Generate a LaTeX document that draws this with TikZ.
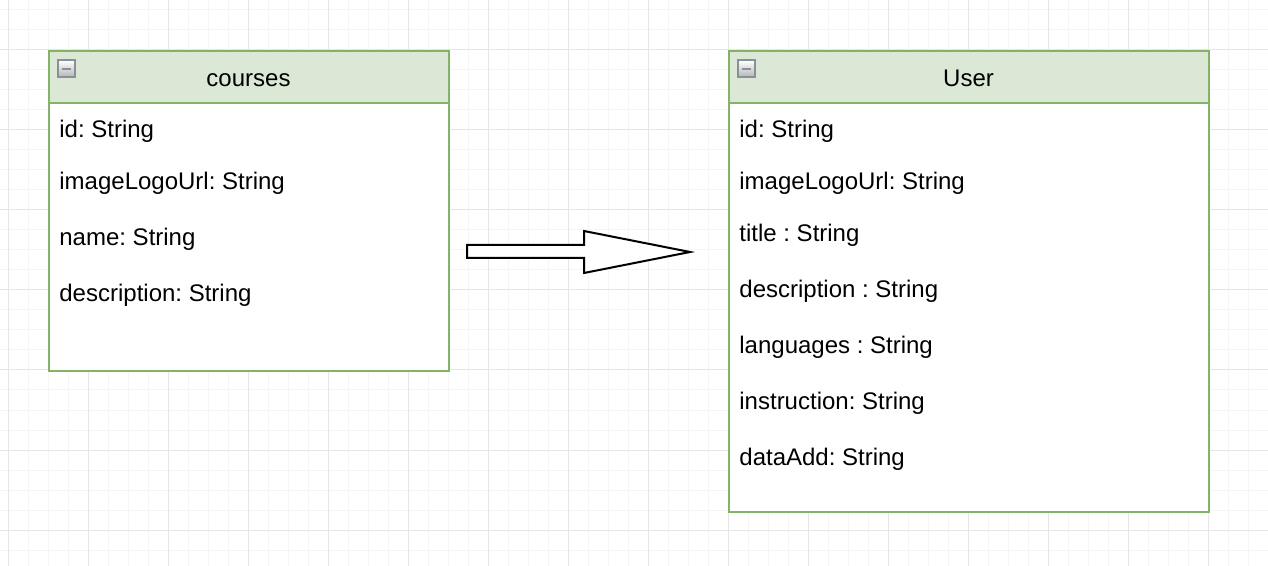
\documentclass[tikz,border=0pt]{standalone}
\usepackage{fontspec}
\setmainfont{Liberation Sans}
\frenchspacing
\definecolor{hdrfill}{HTML}{DAE8D5}
\definecolor{hdrline}{HTML}{82B366}
\definecolor{gridminor}{HTML}{F5F5F5}
\definecolor{gridmajor}{HTML}{E6E6E6}
\definecolor{iconline}{HTML}{8A8F9C}
\begin{document}
\begin{tikzpicture}[x=0.5pt,y=-0.5pt,font=\fontsize{12}{14}\selectfont,
  classbox/.style={draw=hdrline,line width=1pt,fill=white,anchor=north west,minimum width=#1,inner sep=0pt},
  classhdr/.style={draw=hdrline,line width=1pt,fill=hdrfill,anchor=north west,minimum width=#1,minimum height=26pt,inner sep=0pt,text height=10.5pt,text depth=1pt},
  field/.style={anchor=west,inner sep=0pt},
  minusicon/.style={draw=iconline,line width=1pt,top color=white,bottom color=black!30,minimum size=8.5pt,inner sep=0pt,
    path picture={\draw[line width=1.4pt] ([xshift=2pt]path picture bounding box.west) -- ([xshift=-2pt]path picture bounding box.east);}},
  blockarrow/.style={draw=black,line width=1pt,fill=white,line join=miter}]
\useasboundingbox[fill=white] (0,0) rectangle (1268,566);
\foreach \gx in {8,28,...,1268} \draw[gridminor,line width=0.5pt] (\gx,0) -- (\gx,566);
\foreach \gy in {10,30,...,566} \draw[gridminor,line width=0.5pt] (0,\gy) -- (1268,\gy);
\foreach \gx in {8,88,...,1268} \draw[gridmajor,line width=0.5pt] (\gx,0) -- (\gx,566);
\foreach \gy in {50,130,...,566} \draw[gridmajor,line width=0.5pt] (0,\gy) -- (1268,\gy);

\node[classbox=200pt,minimum height=160pt] (courses) at (47.5,50.5) {};
\node[classhdr=200pt] (coursesHdr) at (47.5,50.5) {courses};
\node[minusicon] (coursesIcon) at (66,69) {};
\node[field] (cId) at (59,131) {id: String};
\node[field] (cLogo) at (59,183) {imageLogoUrl: String};
\node[field] (cName) at (59,239) {name: String};
\node[field] (cDesc) at (59,295) {description: String};

\node[classbox=240pt,minimum height=230pt] (user) at (727.5,50.5) {};
\node[classhdr=240pt] (userHdr) at (727.5,50.5) {User};
\node[minusicon] (userIcon) at (746,69) {};
\node[field] (uId) at (739,131) {id: String};
\node[field] (uLogo) at (739,183) {imageLogoUrl: String};
\node[field] (uTitle) at (739,235) {title : String};
\node[field] (uDesc) at (739,291) {description : String};
\node[field] (uLang) at (739,347) {languages : String};
\node[field] (uInstr) at (739,403) {instruction: String};
\node[field] (uDate) at (739,459) {dataAdd: String};

\draw[blockarrow] (467,245) -- (584,245) -- (584,231) -- (690,252) -- (584,273) -- (584,258) -- (467,258) -- cycle;
\end{tikzpicture}
\end{document}
